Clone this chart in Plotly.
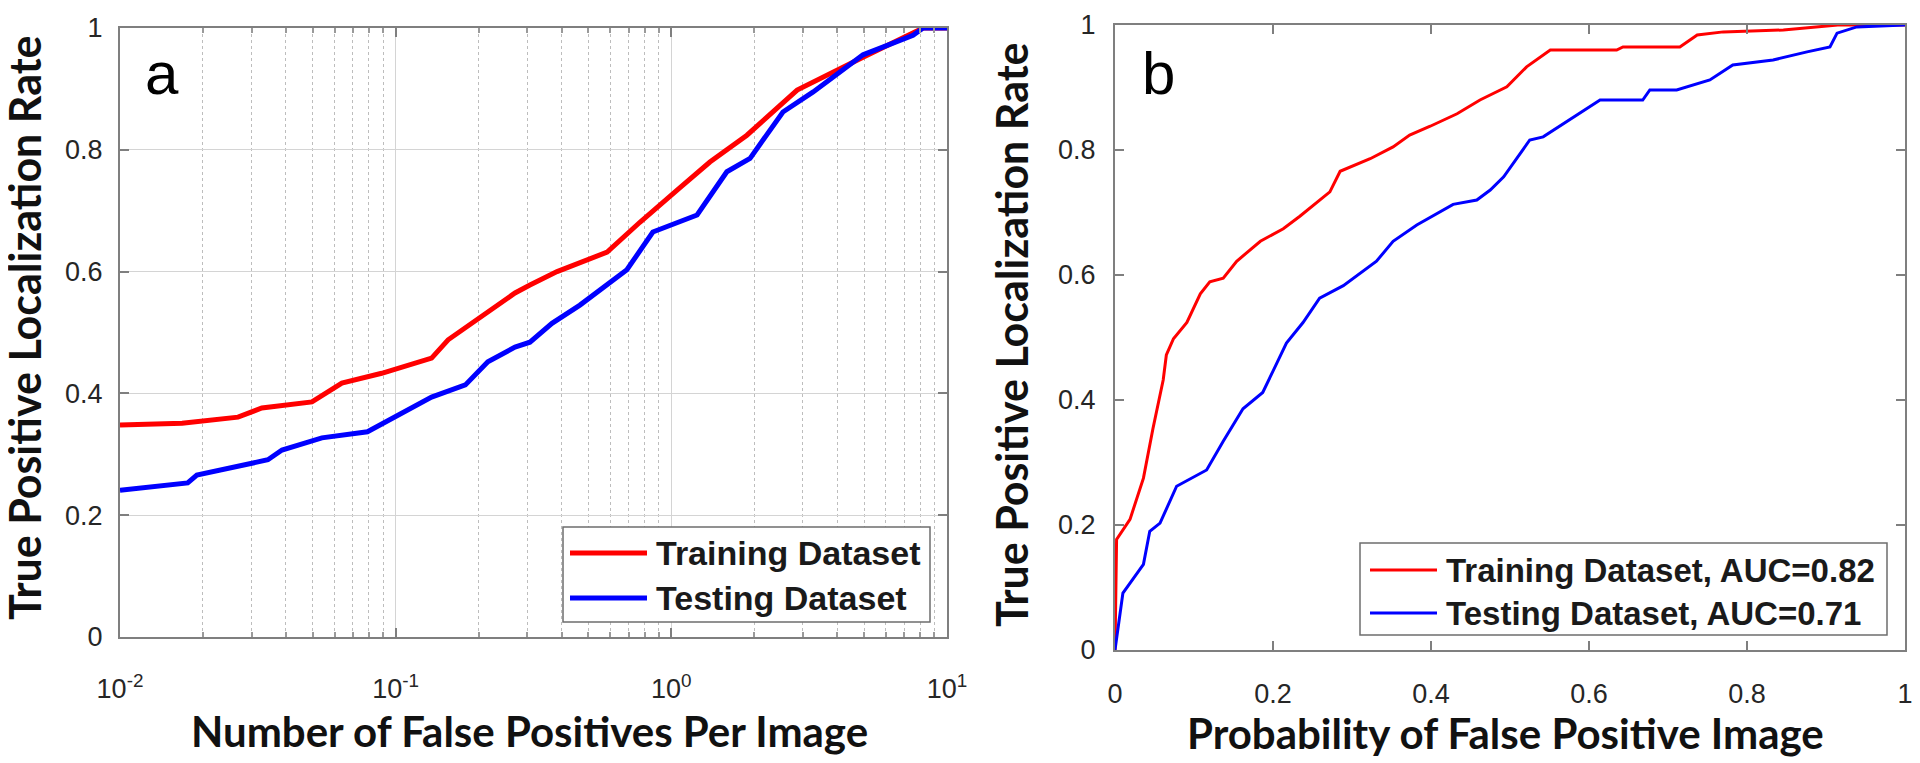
import plotly.graph_objects as go

# the page body adds an 8px margin, so the figure is shrunk by that much
OFF = 8
W, H = 1920 - OFF, 763 - OFF

# panel a: FROC, x = false positives per image (log)
train_fp = [0.01, 0.0168, 0.0268, 0.0327, 0.0497, 0.0638, 0.089, 0.135, 0.155, 0.206, 0.271,
            0.307, 0.385, 0.585, 0.769, 1.07, 1.38, 1.88, 2.86, 4.96, 7.53, 8.19, 10]
train_tpr = [0.348, 0.351, 0.361, 0.376, 0.386, 0.417, 0.433, 0.458, 0.488, 0.528, 0.565,
             0.578, 0.600, 0.632, 0.681, 0.737, 0.780, 0.824, 0.898, 0.952, 0.993, 1.0, 1.0]
test_fp = [0.01, 0.0176, 0.019, 0.0344, 0.0387, 0.054, 0.079, 0.102, 0.135, 0.179, 0.216, 0.271,
           0.307, 0.369, 0.466, 0.690, 0.857, 1.24, 1.59, 1.93, 2.54, 3.27, 4.96, 7.53, 8.19, 10]
test_tpr = [0.241, 0.253, 0.266, 0.291, 0.307, 0.327, 0.337, 0.364, 0.394, 0.414, 0.452, 0.476,
            0.484, 0.515, 0.545, 0.603, 0.665, 0.693, 0.764, 0.786, 0.862, 0.895, 0.956, 0.988, 1.0, 1.0]

# panel b: ROC
train_fpr = [0, 0.002, 0.019, 0.036, 0.048, 0.061, 0.065, 0.074, 0.091, 0.108, 0.120, 0.137, 0.154,
             0.184, 0.213, 0.234, 0.272, 0.285, 0.323, 0.352, 0.373, 0.399, 0.433, 0.462, 0.496,
             0.521, 0.551, 0.635, 0.643, 0.715, 0.737, 0.770, 0.846, 0.896, 0.915, 1.0]
train_roc = [0, 0.177, 0.209, 0.275, 0.354, 0.432, 0.472, 0.498, 0.524, 0.570, 0.589, 0.595, 0.622,
             0.654, 0.674, 0.694, 0.733, 0.766, 0.786, 0.805, 0.824, 0.838, 0.858, 0.880, 0.901,
             0.933, 0.960, 0.960, 0.965, 0.965, 0.984, 0.989, 0.992, 0.997, 1.0, 1.0]
test_fpr = [0, 0.010, 0.036, 0.044, 0.057, 0.078, 0.116, 0.137, 0.162, 0.187, 0.217, 0.238, 0.259,
            0.289, 0.331, 0.352, 0.382, 0.428, 0.458, 0.475, 0.492, 0.525, 0.542, 0.589, 0.614,
            0.668, 0.677, 0.711, 0.753, 0.782, 0.833, 0.876, 0.905, 0.914, 0.939, 1.0]
test_roc = [0, 0.091, 0.137, 0.190, 0.203, 0.262, 0.288, 0.334, 0.386, 0.412, 0.491, 0.524, 0.563,
            0.583, 0.622, 0.654, 0.680, 0.713, 0.720, 0.736, 0.757, 0.816, 0.821, 0.859, 0.880,
            0.880, 0.896, 0.896, 0.912, 0.936, 0.944, 0.957, 0.965, 0.987, 0.997, 1.0]

log_ticks = [0.01, 0.1, 1, 10]
log_ticktext = ["10<sup>-2</sup>", "10<sup>-1</sup>", "10<sup>0</sup>", "10<sup>1</sup>"]
minor_vals = [m * d for d in (0.01, 0.1, 1) for m in range(2, 10)]

RED, BLUE = "#ff0000", "#0000ff"
TICK_FONT = dict(family="Liberation Sans, Arial, sans-serif", size=27, color="#262626")
XTITLE_FONT = dict(family="Lato, sans-serif", size=42, color="#111111")
YTITLE_FONT = dict(family="Lato, sans-serif", size=43, color="#111111")


def px(x):
    return (x - OFF) / W


def py(y):
    return 1 - (y - OFF) / H


fig = go.Figure()
fig.add_trace(go.Scatter(x=train_fp, y=train_tpr, mode="lines", line=dict(color=RED, width=5),
                         xaxis="x", yaxis="y", cliponaxis=False))
fig.add_trace(go.Scatter(x=test_fp, y=test_tpr, mode="lines", line=dict(color=BLUE, width=5),
                         xaxis="x", yaxis="y", cliponaxis=False))
fig.add_trace(go.Scatter(x=train_fpr, y=train_roc, mode="lines", line=dict(color=RED, width=3),
                         xaxis="x2", yaxis="y2", cliponaxis=False))
fig.add_trace(go.Scatter(x=test_fpr, y=test_roc, mode="lines", line=dict(color=BLUE, width=3),
                         xaxis="x2", yaxis="y2", cliponaxis=False))

axis_common = dict(showline=True, linecolor="#7f7f7f", linewidth=2, mirror="allticks",
                   ticks="inside", ticklen=9, tickcolor="#7f7f7f", tickwidth=1.5,
                   tickfont=TICK_FONT, zeroline=False, automargin=False)

fig.update_layout(
    template="none",
    width=W, height=H,
    margin=dict(l=0, r=0, t=0, b=0, pad=0),
    paper_bgcolor="white", plot_bgcolor="white",
    showlegend=False,
    xaxis=dict(type="log", range=[-2, 1], domain=[px(120), px(947)], anchor="y",
               tickvals=log_ticks, ticktext=log_ticktext, showgrid=True,
               gridcolor="#d4d4d4", gridwidth=1, ticklabelstandoff=27,
               minor=dict(tickvals=minor_vals, showgrid=True, griddash="dot",
                          gridcolor="#bdbdbd", gridwidth=1, ticks="inside", ticklen=5,
                          tickcolor="#9a9a9a"),
               **axis_common),
    yaxis=dict(range=[0, 1], domain=[py(637), py(28)], anchor="x", dtick=0.2,
               showgrid=True, gridcolor="#d4d4d4", gridwidth=1, ticklabelstandoff=10,
               **axis_common),
    xaxis2=dict(range=[0, 1], domain=[px(1115), px(1905)], anchor="y2", dtick=0.2,
                showgrid=False, ticklabelstandoff=19, **axis_common),
    yaxis2=dict(range=[0, 1], domain=[py(650), py(25)], anchor="x2", dtick=0.2,
                showgrid=False, ticklabelstandoff=12, **axis_common),
)


def note(text, x, y, font, **kw):
    fig.add_annotation(text=text, x=px(x), y=py(y), xref="paper", yref="paper",
                       showarrow=False, xanchor=kw.pop("xanchor", "center"),
                       yanchor="middle", font=font, **kw)


# axis titles
note("<b>Number of False Positives Per Image</b>", 529, 731, XTITLE_FONT)
note("<b>Probability of False Positive Image</b>", 1505, 733, XTITLE_FONT)
note("<b>True Positive Localization Rate</b>", 25, 328, YTITLE_FONT, textangle=-90)
note("<b>True Positive Localization Rate</b>", 1011, 335, YTITLE_FONT, textangle=-90)

# panel letters
for letter, xc in [("a", 162), ("b", 1158)]:
    note(letter, xc, 73, dict(family="Liberation Sans, Arial, sans-serif", size=60, color="black"))


# legends drawn as boxes with line samples
def legend_box(x0, x1, y0, y1, l0, l1, lw, size, rows):
    fig.add_shape(type="rect", xref="paper", yref="paper", x0=px(x0), x1=px(x1),
                  y0=py(y1), y1=py(y0), line=dict(color="#6e6e6e", width=1.5),
                  fillcolor="white", layer="above")
    for label, color, yc in rows:
        fig.add_shape(type="line", xref="paper", yref="paper", x0=px(l0), x1=px(l1),
                      y0=py(yc), y1=py(yc), line=dict(color=color, width=lw), layer="above")
        note("<b>" + label + "</b>", l1 + 7, yc,
             dict(family="Liberation Sans, Arial, sans-serif", size=size, color="#1a1a1a"),
             xanchor="left")


legend_box(563, 930, 527, 622, 570, 647, 5, 34,
           [("Training Dataset", RED, 553), ("Testing Dataset", BLUE, 598)])
legend_box(1360, 1887, 543, 635, 1370, 1437, 3, 33,
           [("Training Dataset, AUC=0.82", RED, 570), ("Testing Dataset, AUC=0.71", BLUE, 613)])

fig.write_html("out.html")
